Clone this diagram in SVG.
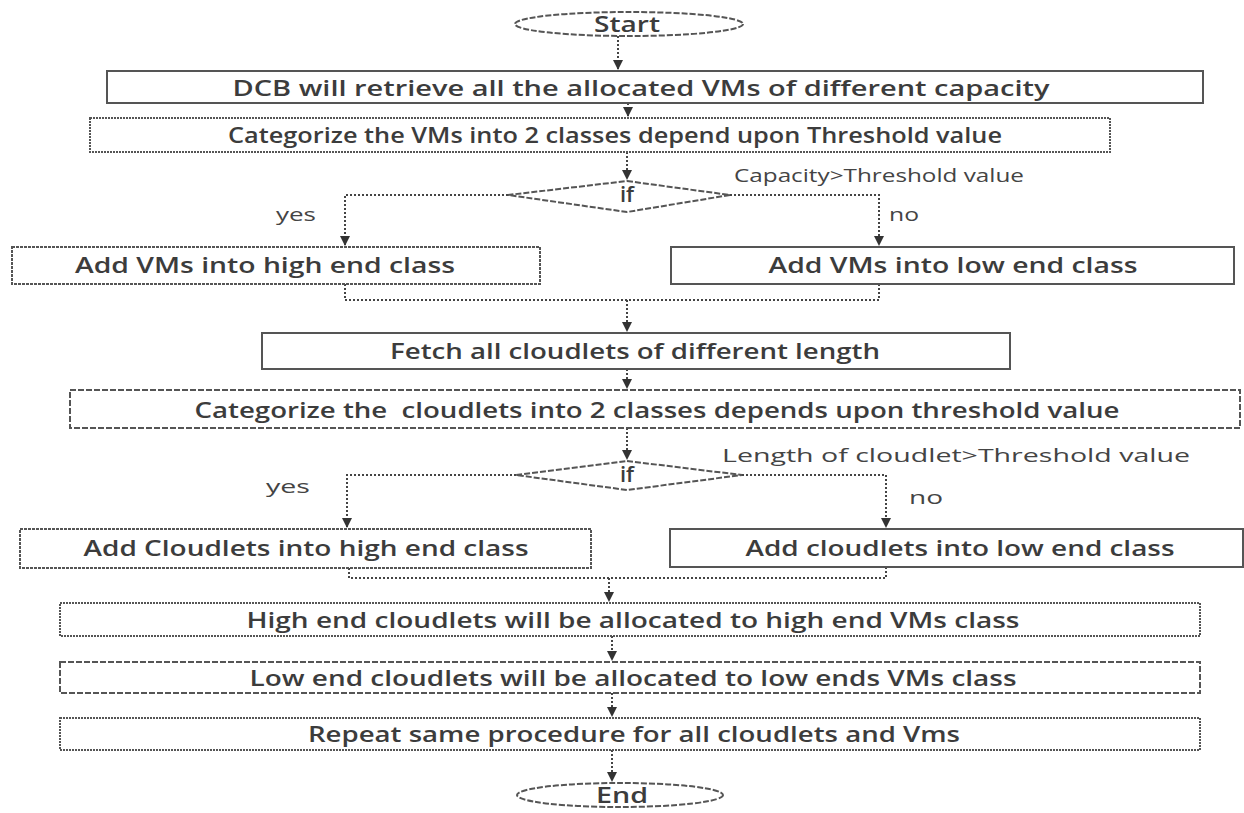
<svg xmlns="http://www.w3.org/2000/svg" width="1244" height="813" viewBox="0 0 1244 813">
<defs>
<style>
.bx{fill:#fff;stroke:#555;stroke-width:2}
.d1{stroke-dasharray:3,1}
.d2{stroke-dasharray:6,2}
.d3{stroke-dasharray:2,1}
.t{font-family:"Open Sans","Liberation Sans",sans-serif;font-weight:600;font-size:22px;fill:#3c3c3c;text-anchor:middle}
.lb{font-family:"Open Sans","Liberation Sans",sans-serif;font-size:19px;fill:#444}
.cn{fill:none;stroke:#444;stroke-width:2;stroke-dasharray:2,2}
</style>
<marker id="ar" viewBox="0 0 10 10" refX="9" refY="5" markerWidth="5" markerHeight="5" orient="auto">
<path d="M0,0 L10,5 L0,10 z" fill="#333"/>
</marker>
</defs>
<rect width="1244" height="813" fill="#fff"/>
<g id="connectors">
<path class="cn" d="M618,36 V69" marker-end="url(#ar)"/>
<path class="cn" d="M628,103 V116" marker-end="url(#ar)"/>
<path class="cn" d="M627,152 V179" marker-end="url(#ar)"/>
<path class="cn" d="M508,195 H345 V245" marker-end="url(#ar)"/>
<path class="cn" d="M730,195 H879 V245" marker-end="url(#ar)"/>
<path class="cn" d="M345,284 V300 H879 V284"/>
<path class="cn" d="M627,300 V331" marker-end="url(#ar)"/>
<path class="cn" d="M627,369 V388" marker-end="url(#ar)"/>
<path class="cn" d="M627,428 V459" marker-end="url(#ar)"/>
<path class="cn" d="M516,475 H347 V527" marker-end="url(#ar)"/>
<path class="cn" d="M742,475 H886 V527" marker-end="url(#ar)"/>
<path class="cn" d="M349,568 V578 H886 V567"/>
<path class="cn" d="M609,578 V601" marker-end="url(#ar)"/>
<path class="cn" d="M612,636 V660" marker-end="url(#ar)"/>
<path class="cn" d="M612,693 V716" marker-end="url(#ar)"/>
<path class="cn" d="M612,750 V781" marker-end="url(#ar)"/>
</g>
<g id="start">
<ellipse class="bx d2" cx="629" cy="24" rx="114" ry="12"/>
<text class="t" x="627" y="32" textLength="66" lengthAdjust="spacingAndGlyphs">Start</text>
</g>
<g id="n1">
<rect class="bx" x="107" y="71" width="1096" height="32"/>
<text class="t" x="641" y="96" textLength="817" lengthAdjust="spacingAndGlyphs">DCB will retrieve all the allocated VMs of different capacity</text>
</g>
<g id="n2">
<rect class="bx d3" x="90" y="118" width="1020" height="34"/>
<text class="t" x="615" y="143" textLength="774" lengthAdjust="spacingAndGlyphs">Categorize the VMs into 2 classes depend upon Threshold value</text>
</g>
<g id="if1">
<polygon class="bx d2" points="627,181 730,195 627,212 508,195"/>
<text class="t" x="627" y="202">if</text>
<text class="lb" x="734" y="182" textLength="290" lengthAdjust="spacingAndGlyphs">Capacity&gt;Threshold value</text>
<text class="lb" x="276" y="221" textLength="40" lengthAdjust="spacingAndGlyphs">yes</text>
<text class="lb" x="889" y="221" textLength="30" lengthAdjust="spacingAndGlyphs">no</text>
</g>
<g id="n3">
<rect class="bx d1" x="12" y="247" width="528" height="37"/>
<text class="t" x="265" y="273" textLength="380" lengthAdjust="spacingAndGlyphs">Add VMs into high end class</text>
</g>
<g id="n4">
<rect class="bx" x="671" y="247" width="563" height="37"/>
<text class="t" x="953" y="273" textLength="369" lengthAdjust="spacingAndGlyphs">Add VMs into low end class</text>
</g>
<g id="n5">
<rect class="bx" x="262" y="333" width="748" height="36"/>
<text class="t" x="635" y="359" textLength="490" lengthAdjust="spacingAndGlyphs">Fetch all cloudlets of different length</text>
</g>
<g id="n6">
<rect class="bx d2" x="70" y="390" width="1170" height="38"/>
<text class="t" x="657" y="418" textLength="925" lengthAdjust="spacingAndGlyphs" xml:space="preserve">Categorize the  cloudlets into 2 classes depends upon threshold value</text>
</g>
<g id="if2">
<polygon class="bx d2" points="627,461 742,475 627,490 516,475"/>
<text class="t" x="627" y="482">if</text>
<text class="lb" x="722" y="462" textLength="468" lengthAdjust="spacingAndGlyphs">Length of cloudlet&gt;Threshold value</text>
<text class="lb" x="266" y="493" textLength="44" lengthAdjust="spacingAndGlyphs">yes</text>
<text class="lb" x="909" y="504" textLength="34" lengthAdjust="spacingAndGlyphs">no</text>
</g>
<g id="n7">
<rect class="bx d1" x="20" y="529" width="571" height="39"/>
<text class="t" x="306" y="556" textLength="445" lengthAdjust="spacingAndGlyphs">Add Cloudlets into high end class</text>
</g>
<g id="n8">
<rect class="bx" x="670" y="529" width="573" height="38"/>
<text class="t" x="960" y="556" textLength="429" lengthAdjust="spacingAndGlyphs">Add cloudlets into low end class</text>
</g>
<g id="n9">
<rect class="bx d3" x="60" y="603" width="1140" height="33"/>
<text class="t" x="633" y="628" textLength="773" lengthAdjust="spacingAndGlyphs">High end cloudlets will be allocated to high end VMs class</text>
</g>
<g id="n10">
<rect class="bx d2" x="60" y="662" width="1140" height="31"/>
<text class="t" x="633" y="686" textLength="767" lengthAdjust="spacingAndGlyphs">Low end cloudlets will be allocated to low ends VMs class</text>
</g>
<g id="n11">
<rect class="bx d3" x="60" y="718" width="1140" height="32"/>
<text class="t" x="634" y="742" textLength="652" lengthAdjust="spacingAndGlyphs">Repeat same procedure for all cloudlets and Vms</text>
</g>
<g id="end">
<ellipse class="bx d2" cx="620" cy="795" rx="103" ry="12"/>
<text class="t" x="622" y="803" textLength="52" lengthAdjust="spacingAndGlyphs">End</text>
</g>
</svg>
